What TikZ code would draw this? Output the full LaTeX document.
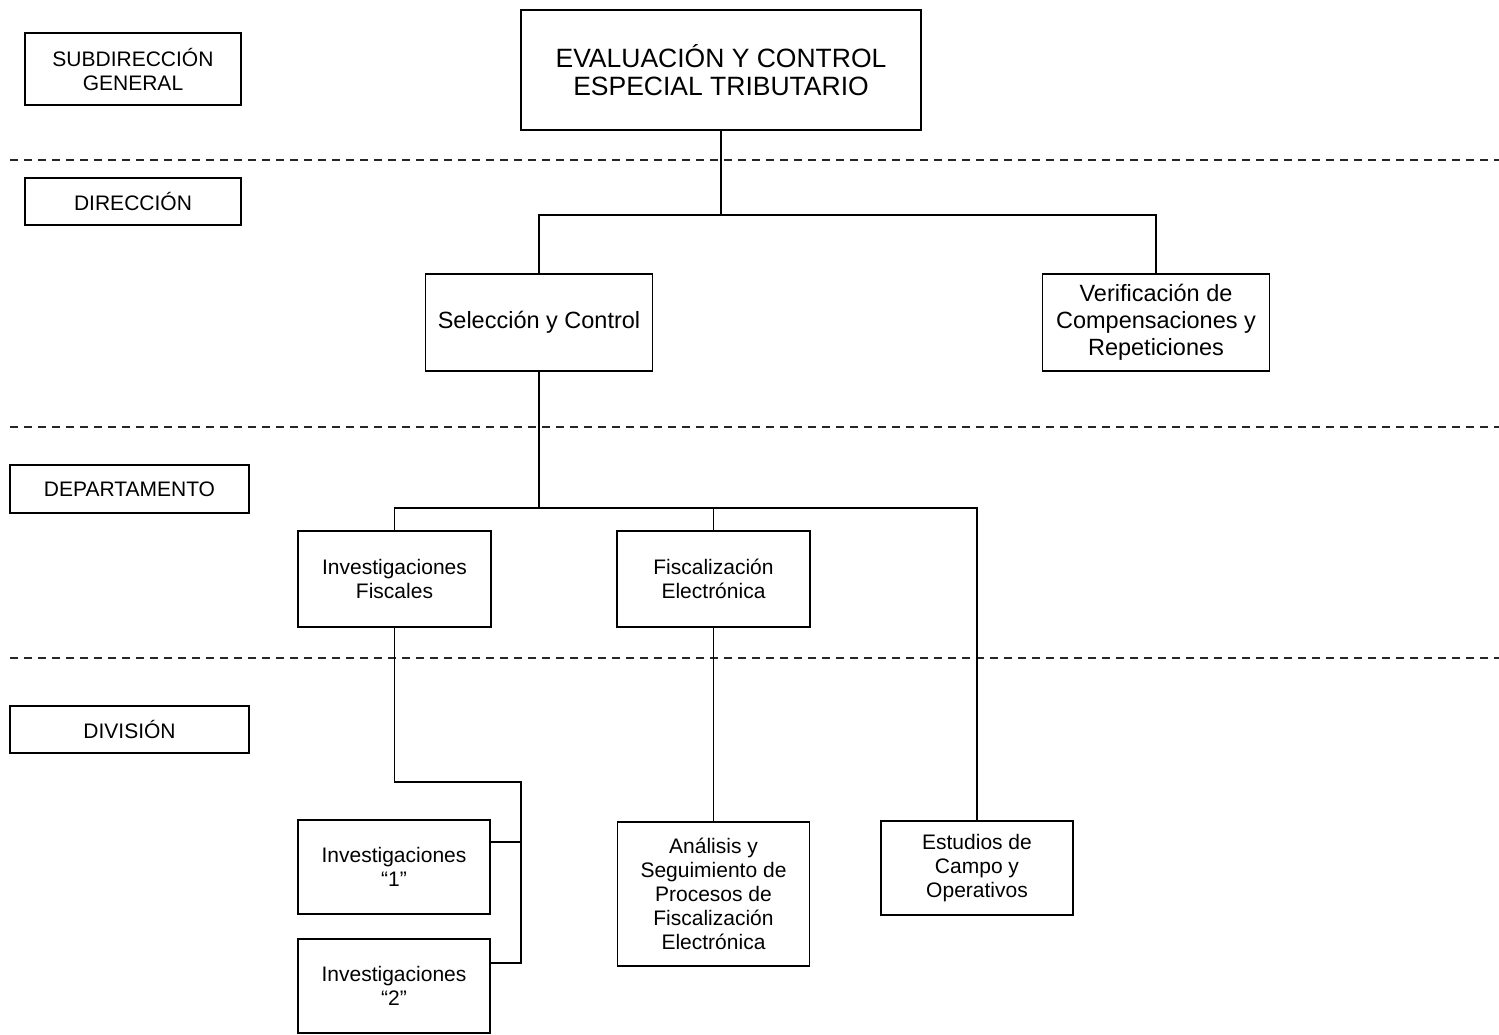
\documentclass[tikz,border=0pt]{standalone}
\usepackage{fontspec}
\setmainfont{Liberation Sans}
\begin{document}
\begin{tikzpicture}[x=1pt,y=-1pt,
  unit/.style={draw, line width=1.6pt, inner sep=0pt, align=center,
    font=\fontsize{21}{24}\selectfont},
  midunit/.style={unit, font=\fontsize{23.5}{27}\selectfont},
  bigunit/.style={unit, font=\fontsize{26.5}{28}\selectfont},
  level/.style={black!85, line width=1.3pt, dash pattern=on 8pt off 6pt},
  link/.style={line width=1.6pt}]
\useasboundingbox (0,0) rectangle (1499,1034);

% level separators
\draw[level] (10,160) -- (1499,160);
\draw[level] (10,427) -- (1499,427);
\draw[level] (10,658) -- (1499,658);

% level labels
\node[unit, minimum width=216pt, minimum height=72pt] (sg) at (133,69) {SUBDIRECCIÓN\\GENERAL};
\node[unit, minimum width=216pt, minimum height=47pt] (dir) at (133,201.5) {DIRECCIÓN};
\node[unit, minimum width=239pt, minimum height=48pt] (dep) at (129.5,489) {DEPARTAMENTO};
\node[unit, minimum width=239pt, minimum height=47pt] (div) at (129.5,729.5) {DIVISIÓN};

% organisational units
\node[bigunit, minimum width=400pt, minimum height=120pt] (top) at (721,70) {EVALUACIÓN Y CONTROL\\ESPECIAL TRIBUTARIO};
\node[midunit, minimum width=227pt, minimum height=97pt] (sel) at (539,322.5) {Selección y Control};
\node[midunit, minimum width=227pt, minimum height=97pt] (ver) at (1156,322.5) {Verificación de\\Compensaciones y\\Repeticiones};
\node[unit, minimum width=193pt, minimum height=96pt] (invf) at (394.5,579) {Investigaciones\\Fiscales};
\node[unit, minimum width=193pt, minimum height=96pt] (fis) at (713.5,579) {Fiscalización\\Electrónica};
\node[unit, minimum width=192pt, minimum height=94pt] (inv1) at (394,867) {Investigaciones\\“1”};
\node[unit, minimum width=192pt, minimum height=94pt] (inv2) at (394,986) {Investigaciones\\“2”};
\node[unit, minimum width=192pt, minimum height=144pt] (ana) at (713.5,894) {Análisis y\\Seguimiento de\\Procesos de\\Fiscalización\\Electrónica};
\node[unit, minimum width=192pt, minimum height=94pt] (est) at (977,868) {Estudios de\\Campo y\\Operativos};

% junction points
\coordinate (j1) at (721,215);
\coordinate (j2) at (539,508);
\coordinate (k)  at (521,782);
\coordinate (b1) at (521,842);
\coordinate (b2) at (521,963);

% connectors
\draw[link] (top.south) -- (top.south |- j1);
\draw[link] (sel.north) |- (j1) -| (ver.north);
\draw[link] (sel.south) -- (sel.south |- j2);
\draw[link] (invf.north) |- (j2) -| (est.north);
\draw[link] (fis.north) -- (fis.north |- j2);
\draw[link] (fis.south) -- (ana.north);
\draw[link] (invf.south) |- (k) -- (b2) -- (b2 -| inv2.east);
\draw[link] (b1) -- (b1 -| inv1.east);
\end{tikzpicture}
\end{document}
